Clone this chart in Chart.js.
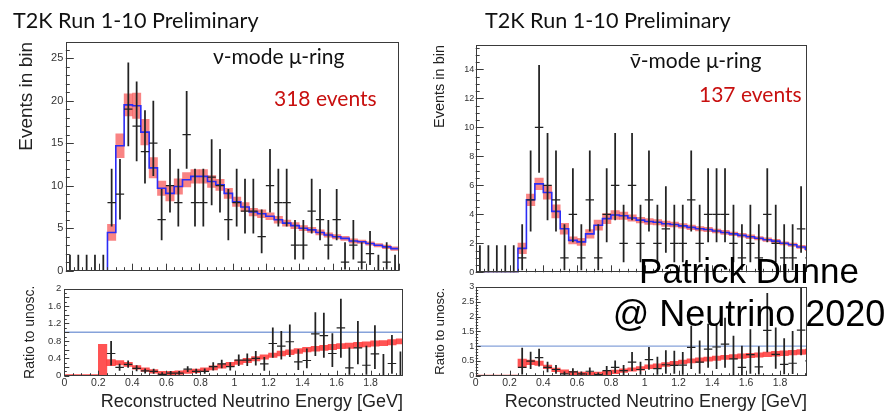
<!DOCTYPE html>
<html lang="en">
<head>
<meta charset="UTF-8">
<title>T2K Run 1-10 Preliminary - mu-ring spectra</title>
<script src="https://cdn.jsdelivr.net/npm/chart.js@4.4.1/dist/chart.umd.min.js"></script>
<style>
  html, body { margin: 0; padding: 0; background: #fff; }
  #page { position: relative; width: 895px; height: 418px; overflow: hidden; }
  #page canvas { position: absolute; }
  .txt { position: absolute; white-space: nowrap; }
  .head { font-family: Lato, "Open Sans", sans-serif; font-size: 21.6px; line-height: 22px; color: #111; }
  .sample { font-family: Lato, "Open Sans", sans-serif; font-size: 21px; line-height: 20px; color: #111; }
  .count { font-family: Lato, "Open Sans", sans-serif; font-size: 21px; line-height: 20px; color: #c8100f; }
  .credit { font-family: "Liberation Sans", Arial, sans-serif; color: #000; width: 300px; text-align: center; left: 599px; }
</style>
</head>
<body>
<div id="page">
  <canvas id="numuHist" width="430" height="280" style="left:0;top:0"></canvas>
  <canvas id="numuRatio" width="430" height="138" style="left:0;top:280px"></canvas>
  <canvas id="nubarHist" width="465" height="280" style="left:430px;top:0"></canvas>
  <canvas id="nubarRatio" width="465" height="138" style="left:430px;top:280px"></canvas>

  <div class="txt head" style="left:13px;top:8.5px">T2K Run 1-10 Preliminary</div>
  <div class="txt head" style="left:485px;top:8.5px">T2K Run 1-10 Preliminary</div>
  <div class="txt sample" style="left:213px;top:46px">ν-mode μ-ring</div>
  <div class="txt count" style="left:274px;top:88px">318 events</div>
  <div class="txt sample" style="left:630px;top:50px">ν̄-mode μ-ring</div>
  <div class="txt count" style="left:699px;top:84px">137 events</div>
  <div class="txt credit" style="top:253.4px;font-size:35px;line-height:35px">Patrick Dunne</div>
  <div class="txt credit" style="top:295.5px;font-size:36px;line-height:36px">@ Neutrino 2020</div>
</div>

<script>
  // reconstructed energy binning (GeV)
  const binEdges = [0.00, 0.05, 0.10, 0.15, 0.20, 0.25, 0.30, 0.35, 0.40, 0.45,
                    0.50, 0.55, 0.60, 0.65, 0.70, 0.75, 0.80, 0.85, 0.90, 0.95,
                    1.00, 1.05, 1.10, 1.15, 1.20, 1.25, 1.30, 1.35, 1.40, 1.45,
                    1.50, 1.55, 1.60, 1.65, 1.70, 1.75, 1.80, 1.85, 1.90, 1.95, 2.00];
  const binWidth = 0.05;

  // ---- neutrino mode, mu-ring ----
  const numuPred = [0, 0, 0, 0, 0, 4.5, 14.7, 19.5, 19.4, 16.3,
                    12.1, 9.7, 9.1, 9.9, 10.7, 11.1, 11.1, 10.5, 10.1, 9.1,
                    8.1, 7.5, 6.9, 6.7, 6.4, 6.0, 5.6, 5.3, 5.0, 4.8,
                    4.5, 4.2, 4.0, 3.8, 3.5, 3.4, 3.2, 3.0, 2.8, 2.6];
  const numuPredErr = [0, 0, 0, 0, 0, 0.95, 1.4, 1.3, 1.5, 1.5,
                       1.2, 0.85, 0.9, 0.9, 0.85, 0.8, 0.8, 0.7, 0.65, 0.6,
                       0.55, 0.5, 0.45, 0.45, 0.4, 0.4, 0.35, 0.35, 0.3, 0.3,
                       0.3, 0.25, 0.25, 0.25, 0.25, 0.2, 0.2, 0.2, 0.2, 0.2];
  const numuData = [0, 0, 0, 0, 0, 8, 9, 19, 17, 14,
                    15, 6, 10, 8, 16, 8, 8, 11, 10, 6,
                    8, 7, 7, 4, 10, 8, 8, 3, 3, 7,
                    6, 3, 6, 1, 3, 1, 2, 0, 1, 0];
  const numuDataLow = [0, 0, 0, 0, 0, 5.23, 6.06, 14.67, 12.91, 10.30,
                       11.17, 3.62, 6.89, 5.23, 12.04, 5.23, 5.23, 7.73, 6.89, 3.62,
                       5.23, 4.42, 4.42, 2.09, 6.89, 5.23, 5.23, 1.37, 1.37, 4.42,
                       3.62, 1.37, 3.62, 0.17, 1.37, 0.17, 0.71, 0, 0.17, 0];
  const numuDataHigh = [1.84, 1.84, 1.84, 1.84, 1.84, 11.95, 13.11, 24.44, 22.21, 18.83,
                        19.96, 9.58, 14.27, 11.95, 21.09, 11.95, 11.95, 15.42, 14.27, 9.58,
                        11.95, 10.77, 10.77, 7.16, 14.27, 11.95, 11.95, 5.92, 5.92, 10.77,
                        9.58, 5.92, 9.58, 3.30, 5.92, 3.30, 4.64, 1.84, 3.30, 1.84];

  const numuRatioPred = [0.012, 0.012, 0.012, 0.012, 0.36, 0.30, 0.30, 0.26, 0.19, 0.14,
                         0.10, 0.06, 0.06, 0.07, 0.09, 0.11, 0.14, 0.18, 0.22, 0.26,
                         0.31, 0.35, 0.39, 0.43, 0.47, 0.51, 0.54, 0.57, 0.60, 0.62,
                         0.64, 0.66, 0.68, 0.69, 0.71, 0.72, 0.74, 0.75, 0.77, 0.79];
  const numuRatioPredErr = [0.012, 0.012, 0.012, 0.012, 0.36, 0.07, 0.05, 0.045, 0.04, 0.04,
                            0.04, 0.04, 0.04, 0.04, 0.04, 0.04, 0.04, 0.045, 0.045, 0.045,
                            0.05, 0.05, 0.05, 0.05, 0.05, 0.055, 0.055, 0.055, 0.055, 0.055,
                            0.06, 0.06, 0.06, 0.06, 0.06, 0.06, 0.06, 0.06, 0.06, 0.06];
  const numuRatioData = [null, null, null, null, null, 0.51, 0.19, 0.26, 0.17, 0.11,
                         0.10, 0.03, 0.06, 0.06, 0.15, 0.10, 0.10, 0.21, 0.27, 0.21,
                         0.36, 0.36, 0.40, 0.27, 0.74, 0.68, 0.78, 0.32, 0.35, 0.96,
                         0.92, 0.51, 1.10, 0.18, 0.64, 0.24, 0.50, 0, 0.28, 0];
  const numuRatioLow = [null, null, null, null, null, 0.24, 0.12, 0.19, 0.11, 0.06,
                        0.05, 0.01, 0.03, 0.03, 0.09, 0.05, 0.05, 0.13, 0.18, 0.13,
                        0.23, 0.23, 0.24, 0.12, 0.42, 0.38, 0.44, 0.14, 0.18, 0.46,
                        0.42, 0.21, 0.42, 0.03, 0.27, 0.03, 0.16, 0, 0.05, 0];
  const numuRatioHigh = [null, null, null, null, null, 0.79, 0.27, 0.34, 0.23, 0.16,
                         0.15, 0.07, 0.10, 0.10, 0.21, 0.15, 0.16, 0.30, 0.36, 0.30,
                         0.48, 0.50, 0.56, 0.42, 1.10, 1.02, 1.17, 0.60, 0.62, 1.45,
                         1.44, 0.97, 1.76, 0.64, 1.25, 0.68, 1.15, 0.49, 0.93, 0.55];

  // ---- antineutrino mode, mu-ring ----
  const nubarPred = [0, 0, 0, 0, 0, 1.65, 5.0, 6.1, 5.5, 4.2,
                     3.0, 2.2, 2.1, 2.65, 3.25, 3.7, 3.95, 3.9, 3.75, 3.6,
                     3.5, 3.45, 3.35, 3.3, 3.2, 3.1, 3.0, 2.95, 2.85, 2.75,
                     2.65, 2.55, 2.45, 2.35, 2.25, 2.15, 2.0, 1.9, 1.75, 1.6];
  const nubarPredErr = [0, 0, 0, 0, 0, 0.37, 0.4, 0.4, 0.45, 0.45,
                        0.37, 0.25, 0.25, 0.3, 0.35, 0.35, 0.3, 0.25, 0.22, 0.2,
                        0.2, 0.18, 0.18, 0.17, 0.16, 0.16, 0.15, 0.15, 0.14, 0.14,
                        0.13, 0.13, 0.13, 0.12, 0.12, 0.12, 0.11, 0.11, 0.11, 0.1];
  const nubarData = [0, 0, 0, 0, 0, 1, 5, 10, 6, 5,
                     1, 4, 1, 5, 1, 4, 6, 2, 6, 2,
                     5, 2, 3, 2, 2, 5, 2, 4, 4, 4,
                     2, 1, 2, 1, 4, 2, 1, 1, 3, 1];
  const nubarDataLow = [0, 0, 0, 0, 0, 0.17, 2.84, 6.89, 3.62, 2.84,
                        0.17, 2.09, 0.17, 2.84, 0.17, 2.09, 3.62, 0.71, 3.62, 0.71,
                        2.84, 0.71, 1.37, 0.71, 0.71, 2.84, 0.71, 2.09, 2.09, 2.09,
                        0.71, 0.17, 0.71, 0.17, 2.09, 0.71, 0.17, 0.17, 1.37, 0.17];
  const nubarDataHigh = [1.84, 1.84, 1.84, 1.84, 1.84, 3.30, 8.38, 14.27, 9.58, 8.38,
                         3.30, 7.16, 3.30, 8.38, 3.30, 7.16, 9.58, 4.64, 9.58, 4.64,
                         8.38, 4.64, 5.92, 4.64, 4.64, 8.38, 4.64, 7.16, 7.16, 7.16,
                         4.64, 3.30, 4.64, 3.30, 7.16, 4.64, 3.30, 3.30, 5.92, 3.30];

  const nubarRatioPred = [0.012, 0.012, 0.012, 0.012, 0.012, 0.42, 0.45, 0.42, 0.30, 0.20,
                          0.14, 0.09, 0.06, 0.05, 0.06, 0.09, 0.13, 0.17, 0.21, 0.25,
                          0.30, 0.34, 0.38, 0.42, 0.46, 0.50, 0.53, 0.56, 0.59, 0.62,
                          0.64, 0.66, 0.68, 0.70, 0.72, 0.74, 0.76, 0.78, 0.80, 0.82];
  const nubarRatioPredErr = [0.012, 0.012, 0.012, 0.012, 0.012, 0.14, 0.08, 0.07, 0.06, 0.06,
                             0.06, 0.06, 0.06, 0.06, 0.06, 0.06, 0.06, 0.06, 0.06, 0.06,
                             0.065, 0.065, 0.065, 0.065, 0.065, 0.07, 0.07, 0.07, 0.07, 0.07,
                             0.075, 0.075, 0.075, 0.075, 0.075, 0.08, 0.08, 0.08, 0.08, 0.08];
  const nubarRatioData = [null, null, null, null, null, 0.28, 0.49, 0.61, 0.28, 0.21,
                          0.06, 0.13, 0.06, 0.15, 0.04, 0.17, 0.28, 0.17, 0.46, 0.21,
                          0.54, 0.24, 0.37, 0.35, 0.36, 0.96, 0.46, 0.90, 0.97, 1.07,
                          0.57, 0.28, 0.71, 0.30, 1.53, 0.72, 0.38, 0.42, 1.54, 0.50];
  const nubarRatioLow = [null, null, null, null, null, 0.05, 0.24, 0.32, 0.13, 0.08,
                         0.01, 0.02, 0.01, 0.04, 0.01, 0.04, 0.10, 0.02, 0.17, 0.04,
                         0.21, 0.04, 0.08, 0.08, 0.04, 0.24, 0.08, 0.28, 0.24, 0.28,
                         0.02, 0.02, 0.08, 0.05, 0.80, 0.25, 0.06, 0.07, 0.70, 0.08];
  const nubarRatioHigh = [null, null, null, null, null, 0.93, 0.80, 0.90, 0.46, 0.35,
                          0.13, 0.24, 0.13, 0.27, 0.10, 0.32, 0.50, 0.35, 0.79, 0.46,
                          0.96, 0.63, 0.85, 0.83, 0.79, 1.68, 1.18, 1.74, 1.76, 1.95,
                          1.34, 1.00, 1.56, 0.98, 2.78, 1.62, 1.25, 1.50, 3.00, 1.70];

  const centres = binEdges.slice(0, -1).map((e, i) => (e + binEdges[i + 1]) / 2);

  // ROOT style frame with inward tick marks on the left and bottom axes
  const rootAxes = {
    id: 'rootAxes',
    afterDatasetsDraw(chart, args, o) {
      const { ctx, chartArea: a, scales: { x, y } } = chart;
      ctx.save();
      ctx.lineWidth = 1;
      ctx.strokeStyle = '#3a3a3a';
      ctx.strokeRect(Math.round(a.left) + 0.5, Math.round(a.top) + 0.5,
                     Math.round(a.right - a.left) - 1, Math.round(a.bottom - a.top) - 1);
      ctx.beginPath();
      for (let k = 0; k * o.xMinor <= x.max + 1e-9; k++) {
        const px = Math.round(x.getPixelForValue(k * o.xMinor)) + 0.5;
        const len = k % o.xEvery === 0 ? o.xLong : o.xLong / 2;
        ctx.moveTo(px, a.bottom);
        ctx.lineTo(px, a.bottom - len);
      }
      for (let k = 0; k * o.yMinor <= y.max + 1e-9; k++) {
        const py = Math.round(y.getPixelForValue(k * o.yMinor)) + 0.5;
        const len = k % o.yEvery === 0 ? o.yLong : o.yLong / 2;
        ctx.moveTo(a.left, py);
        ctx.lineTo(a.left + len, py);
      }
      ctx.stroke();
      ctx.restore();
    }
  };

  const halfBinPx = c => {
    const s = c.chart.scales.x;
    return Math.abs(s.getPixelForValue(binWidth) - s.getPixelForValue(0)) / 2;
  };

  function bandSet(mid, half, colour) {
    return {
      type: 'bar', order: 3, grouped: false,
      data: centres.map((c, i) => ({ x: c, y: [mid[i] - half[i], mid[i] + half[i]] })),
      backgroundColor: colour, borderWidth: 0,
      barPercentage: 1, categoryPercentage: 1
    };
  }

  function errorBarSet(low, high) {
    return {
      type: 'bar', order: 1, grouped: false,
      data: centres.map((c, i) => low[i] === null ? null : { x: c, y: [low[i], high[i]] }).filter(Boolean),
      backgroundColor: '#222', borderWidth: 0, barThickness: 1.1
    };
  }

  function crossbarSet(vals) {
    return {
      type: 'line', order: 0, showLine: false,
      data: centres.map((c, i) => vals[i] === null ? null : { x: c, y: vals[i] }).filter(Boolean),
      pointStyle: 'line', pointRadius: halfBinPx, pointBorderColor: '#222', pointBorderWidth: 1.2
    };
  }

  function stepSet(pred) {
    return {
      type: 'line', order: 2, stepped: true, fill: false,
      data: binEdges.map((e, i) => ({ x: e, y: pred[Math.min(i, pred.length - 1)] })),
      borderColor: '#2a2cf5', borderWidth: 1.6, pointRadius: 0
    };
  }

  function unitySet(xMax) {
    return {
      type: 'line', order: 4,
      data: [{ x: 0, y: 1 }, { x: xMax, y: 1 }],
      borderColor: '#86a2da', borderWidth: 1.4, pointRadius: 0
    };
  }

  function panel(id, p) {
    return new Chart(document.getElementById(id), {
      type: 'bar',
      data: { datasets: p.datasets },
      options: {
        responsive: false, animation: false, events: [], devicePixelRatio: 1,
        layout: { padding: p.padding },
        plugins: { legend: { display: false }, tooltip: { enabled: false }, rootAxes: p.ticks },
        scales: {
          x: {
            type: 'linear', min: 0, max: p.xMax, offset: false,
            grid: { display: false, drawTicks: false }, border: { display: false },
            ticks: {
              display: p.xLabels, stepSize: 0.2, autoSkip: false, maxRotation: 0, padding: 1,
              includeBounds: false, font: { family: 'Liberation Sans', size: 10.5 }, color: '#333',
              callback: v => v > 1.95 ? '' : String(+v.toFixed(2))
            },
            title: p.xLabels ? {
              display: true, text: 'Reconstructed Neutrino Energy [GeV]', align: 'end', color: '#222',
              font: { family: 'Liberation Sans', size: 18 }, padding: { top: 0, bottom: 4.7 }
            } : { display: false },
            afterFit: s => { s.height = p.xAxisH; }
          },
          y: {
            min: 0, max: p.yMax,
            grid: { display: false, drawTicks: false }, border: { display: false },
            ticks: {
              stepSize: p.yStep, includeBounds: false, padding: p.yPad, color: '#333',
              font: { family: 'Liberation Sans', size: p.yFont },
              callback: v => String(+v.toFixed(2))
            },
            title: {
              display: true, text: p.yTitle, align: p.yAlign, color: '#222',
              font: { family: 'Liberation Sans', size: p.yTitleSize }, padding: { top: p.yTitlePad, bottom: 0 }
            },
            afterFit: s => { s.width = p.yAxisW; }
          }
        }
      },
      plugins: [rootAxes]
    });
  }

  const topBand = 'rgba(246, 84, 84, 0.72)';
  const ratioBand = 'rgba(255, 45, 45, 0.82)';

  panel('numuHist', {
    datasets: [bandSet(numuPred, numuPredErr, topBand), stepSet(numuPred),
               errorBarSet(numuDataLow, numuDataHigh), crossbarSet(numuData)],
    padding: { left: 0, right: 30.8, top: 42, bottom: 9.3 },
    xMax: 2.0, xLabels: false, xAxisH: 0,
    yMax: 26.9, yStep: 5, yPad: 2.5, yFont: 11, yAxisW: 65.8,
    yTitle: 'Events in bin', yAlign: 'end', yTitleSize: 19, yTitlePad: 15.6,
    ticks: { xMinor: 0.05, xEvery: 4, xLong: 7, yMinor: 1, yEvery: 5, yLong: 8 }
  });

  panel('numuRatio', {
    datasets: [unitySet(2.0), bandSet(numuRatioPred, numuRatioPredErr, ratioBand),
               errorBarSet(numuRatioLow, numuRatioHigh), crossbarSet(numuRatioData)],
    padding: { left: 0, right: 27, top: 5, bottom: 0 },
    xMax: 1.99, xLabels: true, xAxisH: 42.3,
    yMax: 2, yStep: 0.2, yPad: 3, yFont: 9.5, yAxisW: 64.3,
    yTitle: 'Ratio to unosc.', yAlign: 'center', yTitleSize: 14, yTitlePad: 21.6,
    ticks: { xMinor: 0.05, xEvery: 4, xLong: 5, yMinor: 0.1, yEvery: 2, yLong: 5 }
  });

  panel('nubarHist', {
    datasets: [bandSet(nubarPred, nubarPredErr, topBand), stepSet(nubarPred),
               errorBarSet(nubarDataLow, nubarDataHigh), crossbarSet(nubarData)],
    padding: { left: 0, right: 88, top: 45, bottom: 7.7 },
    xMax: 1.96, xLabels: false, xAxisH: 0,
    yMax: 15.68, yStep: 2, yPad: 1.5, yFont: 9, yAxisW: 45.7,
    yTitle: 'Events in bin', yAlign: 'end', yTitleSize: 14.5, yTitlePad: 1.3,
    ticks: { xMinor: 0.05, xEvery: 4, xLong: 7, yMinor: 0.5, yEvery: 4, yLong: 8 }
  });

  panel('nubarRatio', {
    datasets: [unitySet(1.96), bandSet(nubarRatioPred, nubarRatioPredErr, ratioBand),
               errorBarSet(nubarRatioLow, nubarRatioHigh), crossbarSet(nubarRatioData)],
    padding: { left: 0, right: 88, top: 5, bottom: 0 },
    xMax: 1.96, xLabels: true, xAxisH: 42.3,
    yMax: 3, yStep: 0.5, yPad: 1.5, yFont: 9, yAxisW: 45.7,
    yTitle: 'Ratio to unosc.', yAlign: 'center', yTitleSize: 13, yTitlePad: 2.2,
    ticks: { xMinor: 0.05, xEvery: 4, xLong: 5, yMinor: 0.1, yEvery: 5, yLong: 5 }
  });
</script>
</body>
</html>
